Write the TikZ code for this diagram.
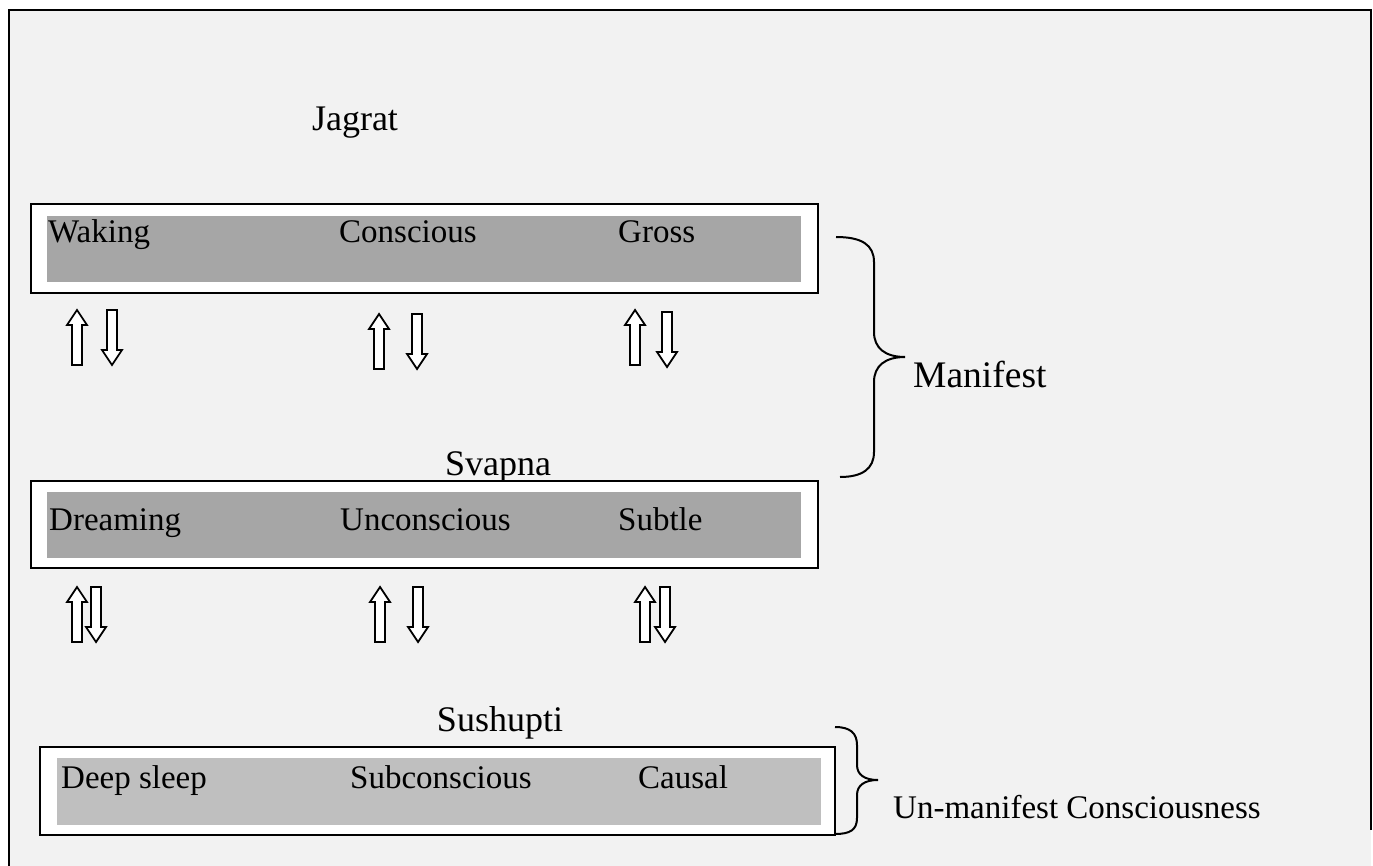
\documentclass[tikz,border=0pt]{standalone}
\usepackage{fontspec}
\setmainfont{Liberation Serif}
\definecolor{bg}{HTML}{F2F2F2}
\definecolor{bandA}{HTML}{A6A6A6}
\definecolor{bandB}{HTML}{BFBFBF}
\tikzset{
  lbl/.style={inner sep=0pt, anchor=base west, font=\fontsize{33}{40}\selectfont},
  ttl/.style={inner sep=0pt, anchor=base, font=\fontsize{36}{42}\selectfont},
  outerbox/.style={draw=black, fill=white, line width=2.8pt},
  brc/.style={draw=black, line width=2pt},
  blockarrow/.style={draw=black, fill=white, line width=1.8pt, line join=miter},
  pics/uparr/.style={code={\path[blockarrow] (0,0) -- (10,15) -- (5,15) -- (5,55) -- (-5,55) -- (-5,15) -- (-10,15) -- cycle;}},
  pics/dnarr/.style={code={\path[blockarrow] (-5,0) -- (5,0) -- (5,40) -- (10,40) -- (0,55) -- (-10,40) -- (-5,40) -- cycle;}}
}
\begin{document}
\begin{tikzpicture}[x=1pt,y=-1pt]
\useasboundingbox (0,0) rectangle (1373,866);
% frame
\fill[bg] (9,10) rectangle (1371,866);
\draw[line width=2.5pt] (9,866) -- (9,10) -- (1371,10) -- (1371,830);
% titles
\node[ttl] (jagrat) at (355,131) {Jagrat};
\node[ttl] (svapna) at (498,475) {Svapna};
\node[ttl] (sushupti) at (500,731) {Sushupti};
% box 1
\path[outerbox] (31,204) rectangle (818,293);
\fill[bandA] (47,216) rectangle (801,282);
\node[lbl] (waking) at (48,243) {Waking};
\node[lbl] (conscious) at (339,243) {Conscious};
\node[lbl] (gross) at (618,243) {Gross};
% box 2
\path[outerbox] (31,481) rectangle (818,568);
\fill[bandA] (47,492) rectangle (801,558);
\node[lbl] (dreaming) at (49,530) {Dreaming};
\node[lbl] (unconscious) at (340,530) {Unconscious};
\node[lbl] (subtle) at (618,530) {Subtle};
% box 3
\path[outerbox] (40,747) rectangle (835,835);
\fill[bandB] (57,758) rectangle (821,825);
\node[lbl] (deepsleep) at (61,788) {Deep sleep};
\node[lbl] (subconscious) at (350,788) {Subconscious};
\node[lbl] (causal) at (638,788) {Causal};
% arrows row 1
\pic at (77,310) {uparr};
\pic at (112,310) {dnarr};
\pic at (379,314) {uparr};
\pic at (417,314) {dnarr};
\pic at (635,310) {uparr};
\pic at (667,312) {dnarr};
% arrows row 2
\pic at (77,587) {uparr};
\pic at (96,587) {dnarr};
\pic at (380,587) {uparr};
\pic at (418,587) {dnarr};
\pic at (645,587) {uparr};
\pic at (665,587) {dnarr};
% braces
\path[brc] (836,237) .. controls (862,237) and (874,245) .. (874,262) -- (874,332)
  .. controls (874,348) and (885,357) .. (905,357)
  .. controls (885,357) and (874,366) .. (874,382) -- (874,452)
  .. controls (874,469) and (862,477) .. (840,477);
\node[lbl, font=\fontsize{37.5}{44}\selectfont] (manifest) at (913,388) {Manifest};
\path[brc] (835,727) .. controls (850,727) and (857,733) .. (857,745) -- (857,765)
  .. controls (857,775) and (865,780) .. (878,780)
  .. controls (865,780) and (857,785) .. (857,795) -- (857,818)
  .. controls (857,830) and (850,834) .. (835,834);
\node[lbl, font=\fontsize{33}{40}\selectfont] (unmanifest) at (893,818) {Un-manifest Consciousness};
\end{tikzpicture}
\end{document}
